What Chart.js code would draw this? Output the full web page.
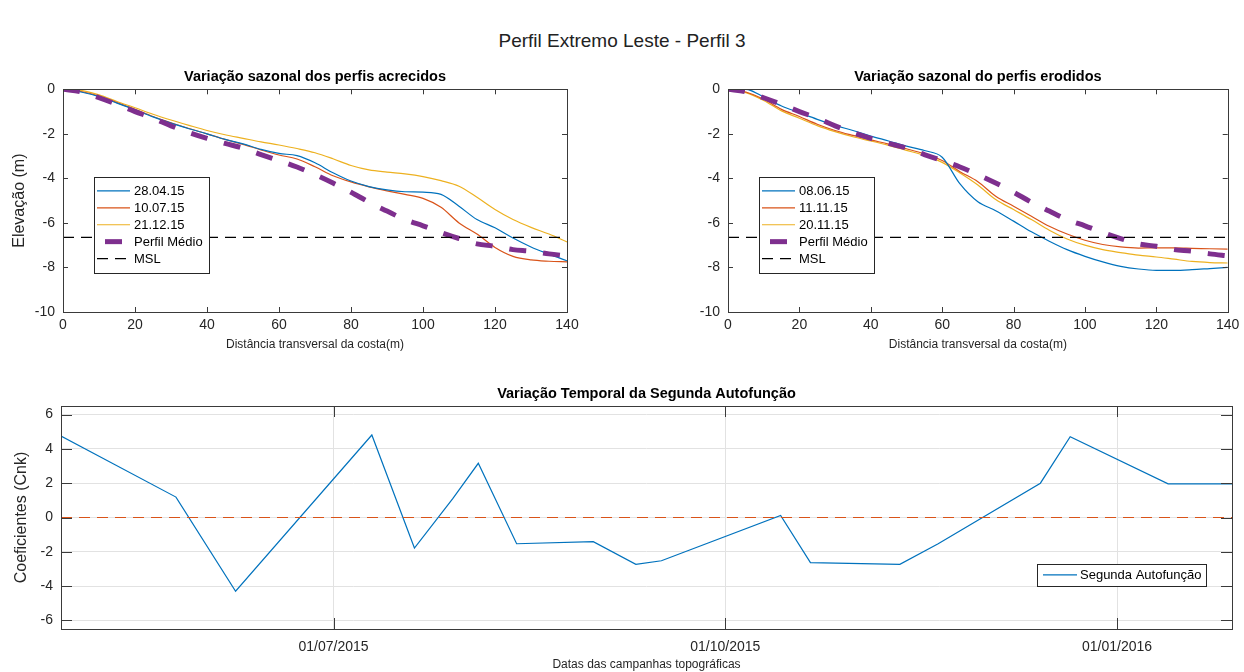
<!DOCTYPE html>
<html>
<head>
<meta charset="utf-8">
<script src="https://cdn.jsdelivr.net/npm/chart.js@4.4.1/dist/chart.umd.min.js"></script>
<style>
  body { margin: 0; background: #fff; width: 1244px; height: 672px; position: relative; overflow: hidden;
         font-family: "Liberation Sans", Arial, sans-serif; }
  .wrap { position: absolute; }
  #mainTitle { position: absolute; top: 30px; left: 0; width: 1244px; text-align: center; font-size: 19px; color: #222; }
</style>
</head>
<body>
<div id="mainTitle">Perfil Extremo Leste - Perfil 3</div>
<div class="wrap" style="left:0;top:60px;width:622px;height:292px"><canvas id="acrecidos"></canvas></div>
<div class="wrap" style="left:622px;top:60px;width:622px;height:292px"><canvas id="erodidos"></canvas></div>
<div class="wrap" style="left:0;top:380px;width:1244px;height:292px"><canvas id="autofuncao"></canvas></div>
<script>
// distance along the profile (m)
const distancia = [0, 5, 10, 15, 20, 25, 30, 35, 40, 45, 50, 55, 60, 65, 70,
                   75, 80, 85, 90, 95, 100, 105, 110, 115, 120, 125, 130, 135, 140];

// accreted profiles (elevation, m)
const perfil280415 = [0, -0.12, -0.33, -0.62, -0.92, -1.24, -1.52, -1.77, -2.0, -2.25, -2.45, -2.7, -2.88, -2.98, -3.3,
                      -3.75, -4.12, -4.37, -4.52, -4.6, -4.62, -4.72, -5.25, -5.85, -6.22, -6.68, -7.08, -7.4, -7.7];
const perfil100715 = [0, -0.1, -0.3, -0.6, -0.9, -1.22, -1.5, -1.76, -2.0, -2.25, -2.47, -2.72, -2.95, -3.13, -3.48,
                      -3.88, -4.16, -4.38, -4.56, -4.72, -4.9, -5.3, -6.0, -6.5, -7.1, -7.5, -7.66, -7.72, -7.75];
const perfil211215 = [0, -0.05, -0.25, -0.55, -0.83, -1.12, -1.38, -1.62, -1.85, -2.04, -2.2, -2.36, -2.5, -2.66, -2.85,
                      -3.12, -3.42, -3.62, -3.72, -3.8, -3.92, -4.1, -4.35, -4.85, -5.4, -5.85, -6.2, -6.5, -6.85];

// eroded profiles (elevation, m)
const perfil080615 = [0, 0.0, -0.35, -0.75, -1.05, -1.35, -1.62, -1.85, -2.1, -2.32, -2.55, -2.75, -3.05, -4.25, -5.05,
                      -5.45, -5.92, -6.4, -6.82, -7.2, -7.5, -7.75, -7.95, -8.07, -8.13, -8.13, -8.1, -8.05, -8.0];
const perfil111115 = [0, -0.12, -0.45, -0.9, -1.22, -1.57, -1.85, -2.07, -2.27, -2.46, -2.67, -2.9, -3.2, -3.7, -4.15,
                      -4.8, -5.25, -5.7, -6.15, -6.5, -6.78, -6.97, -7.08, -7.13, -7.12, -7.12, -7.14, -7.16, -7.18];
const perfil201115 = [0, -0.15, -0.5, -0.97, -1.3, -1.63, -1.9, -2.13, -2.32, -2.52, -2.74, -2.97, -3.28, -3.76, -4.3,
                      -4.95, -5.4, -5.85, -6.33, -6.72, -7.0, -7.2, -7.33, -7.45, -7.53, -7.63, -7.73, -7.78, -7.8];

// mean profile and mean sea level
const perfilMedio = [0, -0.11, -0.38, -0.68, -1.0, -1.3, -1.64, -1.94, -2.2, -2.43, -2.64, -2.93, -3.2, -3.49, -3.83,
                     -4.21, -4.62, -5.07, -5.47, -5.85, -6.13, -6.43, -6.7, -6.94, -7.05, -7.2, -7.27, -7.39, -7.48];
const nivelMSL = -6.65;

const xTicksPerfil = [0, 20, 40, 60, 80, 100, 120, 140];
const yTicksPerfil = [-10, -8, -6, -4, -2, 0];

// second eigenfunction, temporal coefficients
const campanhas = ['2015-04-28', '2015-05-25', '2015-06-08', '2015-07-10', '2015-07-20', '2015-07-29', '2015-08-04',
                   '2015-08-13', '2015-08-31', '2015-09-10', '2015-09-16', '2015-10-14', '2015-10-21', '2015-11-11',
                   '2015-11-20', '2015-12-14', '2015-12-21', '2016-01-13', '2016-01-28'];
const segundaAutofuncao = [4.75, 1.19, -4.3, 4.81, -1.78, 1.1, 3.16, -1.53, -1.41, -2.73, -2.52, 0.12, -2.63, -2.73,
                           -1.53, 2.0, 4.71, 1.96, 1.96];
const nivelZero = 0;
const dateTicks = ['2015-07-01', '2015-10-01', '2016-01-01'];
const dateTickLabels = ['01/07/2015', '01/10/2015', '01/01/2016'];
const yTicksCoef = [-6, -4, -2, 0, 2, 4, 6];

const AZUL = '#0072BD', LARANJA = '#D95319', AMARELO = '#EDB120', ROXO = '#7E2F8E';
const TXT = '#262626';

Chart.defaults.font.family = '"Liberation Sans", Arial, sans-serif';
Chart.defaults.color = TXT;

const toDay = s => { const [y, m, d] = s.split('-').map(Number); return Date.UTC(y, m - 1, d) / 864e5; };

// box round the axes with inward ticks, matlab style
const axesBox = {
  id: 'axesBox',
  afterDatasetsDraw(chart, args, o) {
    const ctx = chart.ctx, a = chart.chartArea, tl = o.tickLen || 5;
    const xs = chart.scales.x, ys = chart.scales.y;
    ctx.save();
    ctx.strokeStyle = '#3a3a3a';
    ctx.lineWidth = 1;
    ctx.beginPath();
    xs.ticks.forEach(t => {
      const px = Math.round(xs.getPixelForValue(t.value)) + 0.5;
      ctx.moveTo(px, a.bottom); ctx.lineTo(px, a.bottom - tl);
      ctx.moveTo(px, a.top); ctx.lineTo(px, a.top + tl);
    });
    ys.ticks.forEach(t => {
      const py = Math.round(ys.getPixelForValue(t.value)) + 0.5;
      ctx.moveTo(a.left, py); ctx.lineTo(a.left + tl, py);
      ctx.moveTo(a.right, py); ctx.lineTo(a.right - tl, py);
    });
    ctx.stroke();
    ctx.strokeRect(Math.round(a.left) + 0.5, Math.round(a.top) + 0.5, Math.round(a.width), Math.round(a.height));
    ctx.restore();
  }
};

// legend drawn inside the axes
const boxLegend = {
  id: 'boxLegend',
  afterDraw(chart, args, o) {
    if (!o || !o.show) return;
    const ctx = chart.ctx, a = chart.chartArea;
    const items = chart.data.datasets.filter(d => !d.hideInLegend);
    const x0 = Math.round(a.left + o.left), y0 = Math.round(a.top + o.top);
    const h = Math.round(o.padY * 2 + o.rowH * items.length);
    ctx.save();
    ctx.fillStyle = '#fff';
    ctx.fillRect(x0, y0, o.width, h);
    ctx.strokeStyle = '#262626';
    ctx.lineWidth = 1;
    ctx.strokeRect(x0 + 0.5, y0 + 0.5, o.width, h);
    ctx.font = '13px "Liberation Sans", Arial, sans-serif';
    ctx.textBaseline = 'middle';
    items.forEach((d, i) => {
      const cy = y0 + o.padY + o.rowH * (i + 0.5);
      const dash = d.borderDash || [];
      ctx.save();
      ctx.strokeStyle = d.borderColor;
      ctx.lineWidth = d.borderWidth;
      ctx.setLineDash(dash);
      if (d.borderWidth > 3 && dash.length) ctx.lineDashOffset = -(o.sampleW - dash[0]) / 2;
      ctx.beginPath();
      ctx.moveTo(x0 + o.sampleX, cy);
      ctx.lineTo(x0 + o.sampleX + o.sampleW, cy);
      ctx.stroke();
      ctx.restore();
      ctx.fillStyle = '#000';
      ctx.fillText(d.label, x0 + o.textX, cy + 0.5);
    });
    ctx.restore();
  }
};

function profileChart(id, title, series, yTitle, yWidth, padRight) {
  const datasets = series.map(s => ({
    label: s.label,
    data: distancia.map((d, i) => ({x: d, y: s.values[i]})),
    borderColor: s.color,
    borderWidth: 1.2,
    pointRadius: 0,
    cubicInterpolationMode: 'monotone',
    order: 3
  }));
  datasets.push({
    label: 'Perfil Médio',
    data: distancia.map((d, i) => ({x: d, y: perfilMedio[i]})),
    borderColor: ROXO,
    borderWidth: 5,
    borderDash: [17, 17],
    borderCapStyle: 'butt',
    pointRadius: 0,
    cubicInterpolationMode: 'monotone',
    order: 2
  });
  datasets.push({
    label: 'MSL',
    data: [{x: distancia[0], y: nivelMSL}, {x: distancia[distancia.length - 1], y: nivelMSL}],
    borderColor: '#000',
    borderWidth: 1.2,
    borderDash: [11, 7],
    pointRadius: 0,
    order: 1
  });

  return new Chart(document.getElementById(id), {
    type: 'line',
    data: {datasets},
    plugins: [axesBox, boxLegend],
    options: {
      animation: false,
      responsive: true,
      maintainAspectRatio: false,
      layout: {padding: {left: 0, right: padRight, top: 0, bottom: 0}},
      plugins: {
        legend: {display: false},
        tooltip: {enabled: false},
        title: {
          display: true, text: title, fullSize: false, color: '#000',
          font: {size: 14.5, weight: 'bold'}, padding: {top: 8.3, bottom: 3.6}
        },
        axesBox: {tickLen: 5},
        boxLegend: {show: true, left: 31, top: 87.5, width: 115, rowH: 16.9, padY: 5.5, sampleX: 3, sampleW: 33, textX: 40}
      },
      scales: {
        x: {
          type: 'linear', min: 0, max: 140,
          afterBuildTicks: s => { s.ticks = xTicksPerfil.map(v => ({value: v})); },
          afterFit: s => { s.height = 40; },
          grid: {display: false, drawTicks: false},
          border: {display: false},
          ticks: {color: TXT, font: {size: 14}, padding: 4.6, maxRotation: 0, autoSkip: false},
          title: {display: true, text: 'Distância transversal da costa(m)', color: TXT, font: {size: 12}, padding: {top: 0, bottom: 0}}
        },
        y: {
          min: -10, max: 0,
          afterBuildTicks: s => { s.ticks = yTicksPerfil.map(v => ({value: v})); },
          afterFit: s => { s.width = yWidth; },
          grid: {display: false, drawTicks: false},
          border: {display: false},
          ticks: {color: TXT, font: {size: 14}, padding: 8},
          title: {display: !!yTitle, text: yTitle || '', color: TXT, font: {size: 16}, padding: {top: 10, bottom: 0}}
        }
      }
    }
  });
}

profileChart('acrecidos', 'Variação sazonal dos perfis acrecidos', [
  {label: '28.04.15', values: perfil280415, color: AZUL},
  {label: '10.07.15', values: perfil100715, color: LARANJA},
  {label: '21.12.15', values: perfil211215, color: AMARELO}
], 'Elevação (m)', 63, 55);

profileChart('erodidos', 'Variação sazonal do perfis erodidos', [
  {label: '08.06.15', values: perfil080615, color: AZUL},
  {label: '11.11.15', values: perfil111115, color: LARANJA},
  {label: '20.11.15', values: perfil201115, color: AMARELO}
], null, 106, 11);

const dia0 = toDay(campanhas[0]), diaN = toDay(campanhas[campanhas.length - 1]);

new Chart(document.getElementById('autofuncao'), {
  type: 'line',
  data: {
    datasets: [
      {
        label: 'Segunda Autofunção',
        data: campanhas.map((c, i) => ({x: toDay(c), y: segundaAutofuncao[i]})),
        borderColor: AZUL,
        borderWidth: 1.2,
        pointRadius: 0,
        tension: 0,
        order: 2
      },
      {
        label: 'zero',
        hideInLegend: true,
        data: [{x: dia0, y: nivelZero}, {x: diaN, y: nivelZero}],
        borderColor: LARANJA,
        borderWidth: 1.2,
        borderDash: [11, 7],
        pointRadius: 0,
        order: 1
      }
    ]
  },
  plugins: [axesBox, boxLegend],
  options: {
    animation: false,
    responsive: true,
    maintainAspectRatio: false,
    layout: {padding: {left: 0, right: 12, top: 0, bottom: 0}},
    plugins: {
      legend: {display: false},
      tooltip: {enabled: false},
      title: {
        display: true, text: 'Variação Temporal da Segunda Autofunção', fullSize: false, color: '#000',
        font: {size: 14.5, weight: 'bold'}, padding: {top: 5.3, bottom: 3.3}
      },
      axesBox: {tickLen: 11},
      boxLegend: {show: true, left: 976, top: 157.5, width: 169, rowH: 11.7, padY: 5, sampleX: 6, sampleW: 34, textX: 43}
    },
    scales: {
      x: {
        type: 'linear', min: dia0, max: diaN,
        afterBuildTicks: s => { s.ticks = dateTicks.map(d => ({value: toDay(d)})); },
        afterFit: s => { s.height = 43; },
        grid: {display: true, drawTicks: false, color: '#e2e2e2'},
        border: {display: false},
        ticks: {
          color: TXT, font: {size: 14}, padding: 9.6, maxRotation: 0, autoSkip: false,
          callback: (v, i) => dateTickLabels[i]
        },
        title: {display: true, text: 'Datas das campanhas topográficas', color: TXT, font: {size: 12}, padding: {top: 0, bottom: 0}}
      },
      y: {
        min: -6.5, max: 6.5,
        afterBuildTicks: s => { s.ticks = yTicksCoef.map(v => ({value: v})); },
        afterFit: s => { s.width = 61; },
        grid: {display: true, drawTicks: false, color: '#e2e2e2'},
        border: {display: false},
        ticks: {color: TXT, font: {size: 14}, padding: 8},
        title: {display: true, text: 'Coeficientes (Cnk)', color: TXT, font: {size: 16}, padding: {top: 12, bottom: 0}}
      }
    }
  }
});
</script>
</body>
</html>
